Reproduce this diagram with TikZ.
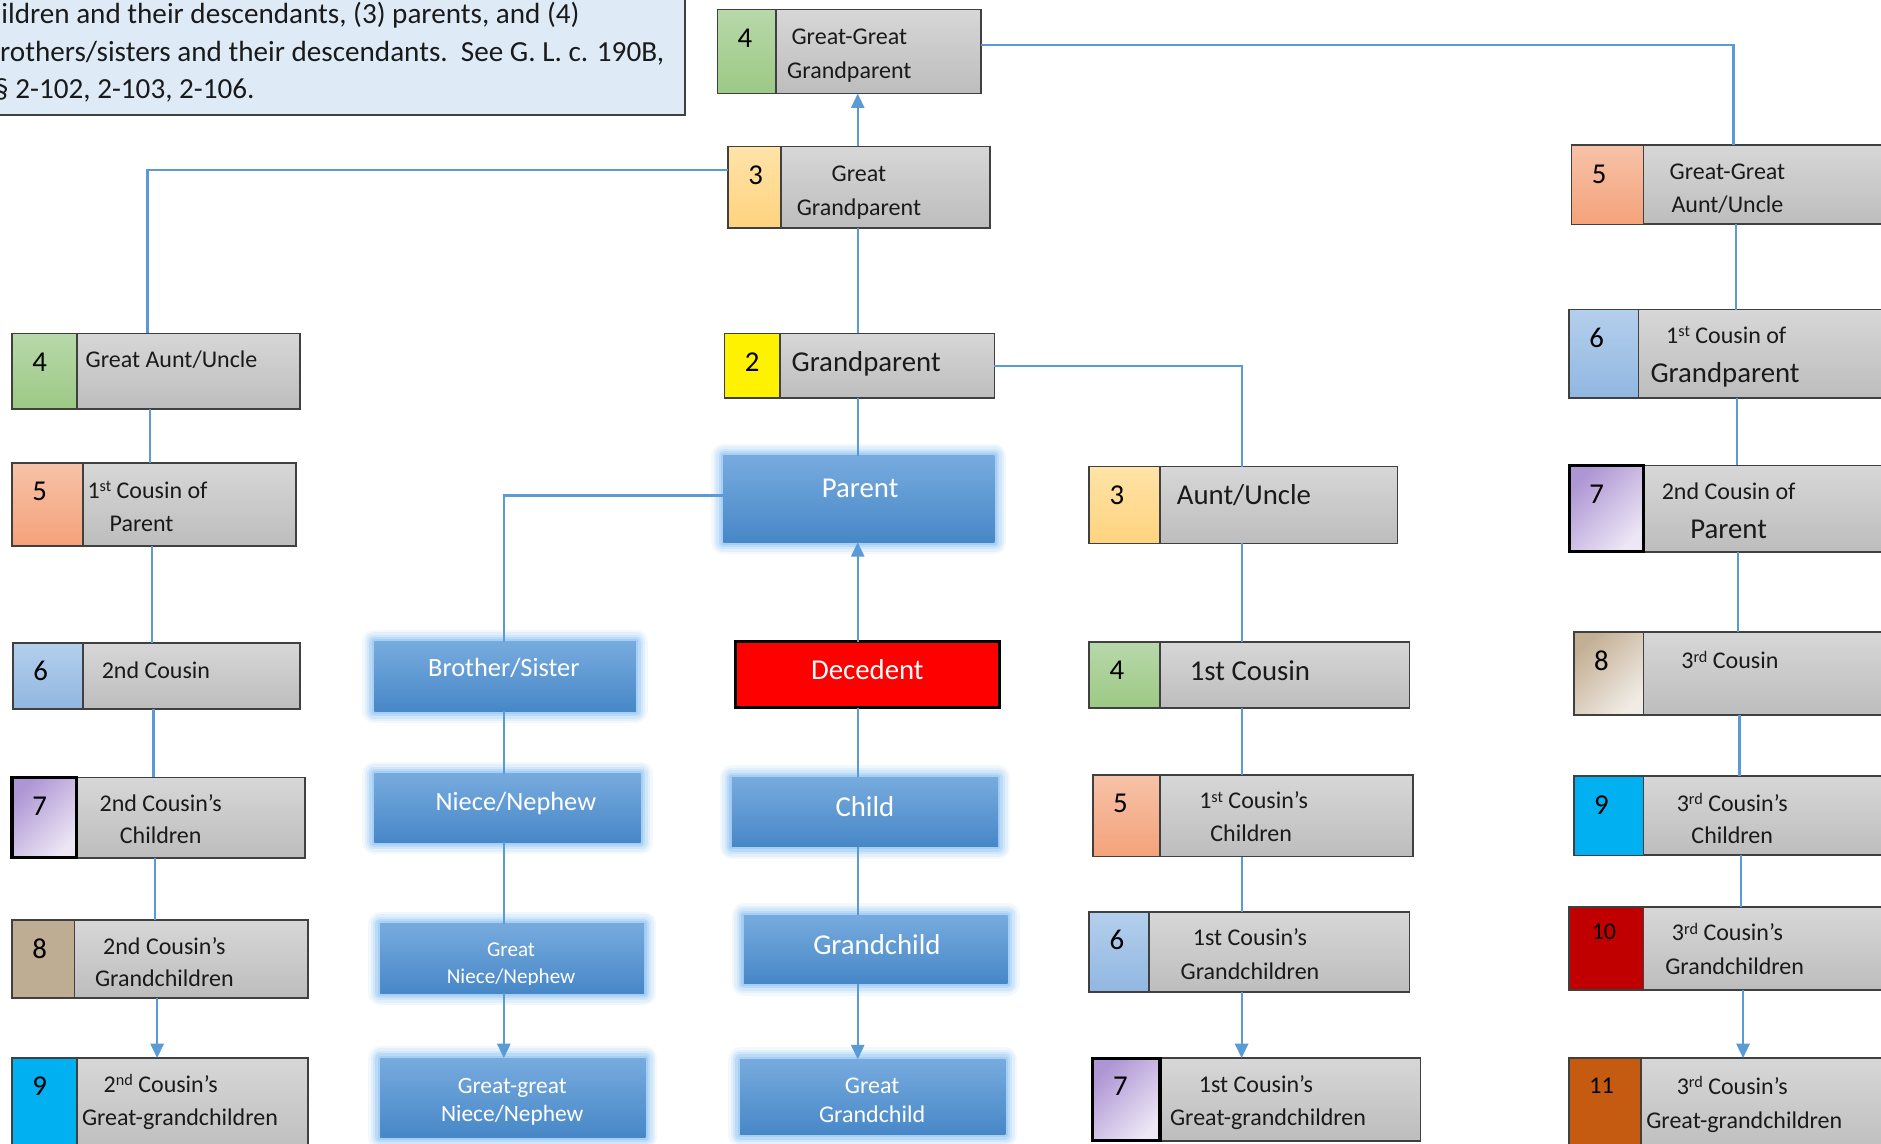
\documentclass[tikz,border=0pt]{standalone}
\usepackage{fontspec}
\setmainfont{Carlito}
\usetikzlibrary{arrows.meta,calc}
\definecolor{lineblue}{HTML}{5B9BD5}
\definecolor{edge}{HTML}{404040}
\definecolor{grayT}{HTML}{D7D7D7}
\definecolor{grayB}{HTML}{BDBDBD}
\definecolor{greenT}{HTML}{B8D8AA}
\definecolor{greenB}{HTML}{9CC985}
\definecolor{oraT}{HTML}{FFE3A8}
\definecolor{oraB}{HTML}{FFD37E}
\definecolor{salT}{HTML}{F7C2A8}
\definecolor{salB}{HTML}{F4A27A}
\definecolor{bluT}{HTML}{B4CFEC}
\definecolor{bluB}{HTML}{91B7E1}
\definecolor{purD}{HTML}{AE95D4}
\definecolor{purL}{HTML}{ECE6F5}
\definecolor{tanS}{HTML}{BFAD93}
\definecolor{tanD}{HTML}{C3AF94}
\definecolor{tanL}{HTML}{F0EBE4}
\definecolor{cyanN}{HTML}{00B0F0}
\definecolor{redN}{HTML}{C00000}
\definecolor{oraN}{HTML}{C55A11}
\definecolor{boxT}{HTML}{77ABDE}
\definecolor{boxB}{HTML}{4787C7}
\definecolor{glow}{HTML}{8EC3F5}
\definecolor{notefill}{HTML}{DEEBF7}
\definecolor{ink}{HTML}{1A1A1A}

\tikzset{
 conn/.style={draw=lineblue, line width=1.8pt},
 arr/.style={conn, -{Triangle[width=11pt,length=12pt]}},
 kbox/.style={draw=edge, line width=1.4pt, top color=grayT, bottom color=grayB, anchor=north west, inner sep=0pt, outer sep=0pt},
 nbox/.style={draw=edge, line width=1.3pt, anchor=north west, inner sep=0pt, outer sep=0pt},
 g2/.style={fill=yellow},
 g3/.style={top color=oraT, bottom color=oraB},
 g4/.style={top color=greenT, bottom color=greenB},
 g5/.style={top color=salT, bottom color=salB},
 g6/.style={top color=bluT, bottom color=bluB},
 g7/.style={draw=black, line width=2.6pt, top color=purD, bottom color=purL, shading angle=45},
 g8s/.style={fill=tanS},
 g8/.style={top color=tanD, bottom color=tanL, shading angle=45},
 g9/.style={fill=cyanN},
 g10/.style={fill=redN},
 g11/.style={fill=oraN},
 bbox/.style={anchor=north west, inner sep=0pt, outer sep=0pt, top color=boxT, bottom color=boxB,
   preaction={draw=glow, line width=20pt, draw opacity=0.10, line join=round},
   preaction={draw=glow, line width=16pt, draw opacity=0.15, line join=round},
   preaction={draw=glow, line width=12pt, draw opacity=0.22, line join=round},
   preaction={draw=glow, line width=8pt, draw opacity=0.32, line join=round},
   preaction={draw=glow, line width=4pt, draw opacity=0.45, line join=round}},
 dbox/.style={anchor=north west, inner sep=0pt, outer sep=0pt, draw=black, line width=2.2pt, fill=red},
 notebox/.style={anchor=north west, inner sep=0pt, outer sep=0pt, draw=edge, line width=1.3pt, fill=notefill},
 num/.style={font=\fontsize{24}{28}\selectfont, text height=15.2pt, text depth=0pt, inner sep=0pt, text=black},
 numsm/.style={font=\fontsize{20}{24}\selectfont, text height=12.7pt},
 t20/.style={font=\fontsize{20}{24}\selectfont, text height=12.7pt, text depth=0pt, inner sep=0pt, text=ink},
 t24/.style={font=\fontsize{24}{28}\selectfont, text height=15.2pt, text depth=0pt, inner sep=0pt, text=ink},
 t22/.style={font=\fontsize{22}{26}\selectfont, text height=13.9pt, text depth=0pt, inner sep=0pt, text=white},
 t18/.style={font=\fontsize{17.6}{21}\selectfont, text height=11.1pt, text depth=0pt, inner sep=0pt, text=white},
 t195/.style={font=\fontsize{19.5}{23}\selectfont, text height=12.3pt, text depth=0pt, inner sep=0pt, text=white},
 notetext/.style={font=\fontsize{24.3}{31}\selectfont, anchor=base west, inner sep=0pt, text=ink},
}

\newcommand\kin[9]{%
  \node[kbox, minimum width={#4-#2}, minimum height={#6-#5}] (#1) at (#2,#5) {};
  \node[nbox, #7, minimum width={#3-#2}, minimum height={#6-#5}] (#1n) at (#2,#5) {};
  \node[num, #9] (#1d) at (#2+23,#5+24) {#8};
}
\newcommand\tx[5][t20]{\node[#1] (#2) at (#3,#4) {#5};}
\newcommand\sups[1]{\raisebox{5.5pt}{\fontsize{13.5}{14}\selectfont #1}}

\begin{document}
\begin{tikzpicture}[x=1pt,y=-1pt]
\useasboundingbox (0,0) rectangle (1568,953);
\fill[white] (0,0) rectangle (1568,953);

% column coordinates
\coordinate (cC) at (715,0);
\coordinate (cB) at (420,0);
\coordinate (cM) at (1035,0);
\coordinate (cL0) at (123,0);
\coordinate (cL1) at (125,0);
\coordinate (cL2) at (127,0);
\coordinate (cL3) at (128,0);
\coordinate (cL4) at (129,0);
\coordinate (cL5) at (131,0);
\coordinate (cR0) at (1445,0);
\coordinate (cR1) at (1447,0);
\coordinate (cR2) at (1448,0);
\coordinate (cR3) at (1449,0);
\coordinate (cR4) at (1450,0);
\coordinate (cR5) at (1451,0);
\coordinate (cR6) at (1453,0);

% note box (top left)
\node[notebox, minimum width=586, minimum height=111] (note) at (-15,-15) {};
\node[notetext] (note1) at (1,20) {ildren and their descendants, (3) parents, and (4)};
\node[notetext] (note2) at (0,51) {rothers/sisters and their descendants.\ \ See G. L. c. 190B,};
\node[notetext] (note3) at (-5,82) {§ 2-102, 2-103, 2-106.};

% center column
\kin{ggp}{598}{647}{818}{8}{78}{g4}{4}{}
\kin{gga}{607}{651}{825}{122}{190}{g3}{3}{}
\kin{gp}{604}{650}{829}{278}{332}{g2}{2}{}
\node[bbox, minimum width=226, minimum height=72] (par) at (603,380) {};
\node[dbox, minimum width=220, minimum height=55] (dec) at (613,535) {};
\node[bbox, minimum width=222, minimum height=58] (chi) at (610,648) {};
\node[bbox, minimum width=220, minimum height=57] (gch) at (620,763) {};
\node[bbox, minimum width=221, minimum height=63] (ggc) at (617,883) {};

% brother column
\node[bbox, minimum width=218, minimum height=58] (bro) at (312,535) {};
\node[bbox, minimum width=222, minimum height=57] (nie) at (312,645) {};
\node[bbox, minimum width=220, minimum height=58] (gni) at (317,770) {};
\node[bbox, minimum width=221, minimum height=66] (ggn) at (317,882) {};

% left column
\kin{L4}{10}{64}{250}{278}{341}{g4}{4}{}
\kin{L5}{10}{69}{247}{386}{455}{g5}{5}{}
\kin{L6}{11}{69}{250}{536}{591}{g6}{6}{}
\kin{L7}{10}{64}{254}{648}{715}{g7}{7}{}
\kin{L8}{10}{62}{257}{767}{832}{g8s}{8}{}
\kin{L9}{10}{64}{257}{882}{965}{g9}{9}{}

% middle-right column
\kin{M3}{908}{967}{1165}{389}{453}{g3}{3}{}
\kin{M4}{908}{967}{1175}{535}{590}{g4}{4}{}
\kin{M5}{911}{967}{1178}{646}{714}{g5}{5}{}
\kin{M6}{908}{958}{1175}{760}{827}{g6}{6}{}
\kin{M7}{911}{967}{1184}{882}{951}{g7}{7}{}

% right column
\kin{R5}{1310}{1370}{1600}{121}{187}{g5}{5}{}
\kin{R6}{1308}{1366}{1600}{258}{332}{g6}{6}{}
\kin{R7}{1308}{1370}{1600}{388}{460}{g7}{7}{}
\kin{R8}{1312}{1370}{1600}{527}{596}{g8}{8}{}
\kin{R9}{1312}{1370}{1600}{647}{713}{g9}{9}{}
\kin{R10}{1308}{1370}{1600}{756}{825}{g10}{10}{numsm, xshift=6pt, yshift=3pt}
\kin{R11}{1308}{1368}{1600}{882}{965}{g11}{11}{numsm, xshift=4pt, yshift=1pt}

% connectors
\draw[arr] (gga.north -| cC) -- (ggp.south -| cC);
\draw[conn] (gga.south -| cC) -- (gp.north -| cC);
\draw[conn] (gp.south -| cC) -- (par.north -| cC);
\draw[arr] (dec.north -| cC) -- (par.south -| cC);
\draw[conn] (dec.south -| cC) -- (chi.north -| cC);
\draw[conn] (chi.south -| cC) -- (gch.north -| cC);
\draw[arr] (gch.south -| cC) -- (ggc.north -| cC);

\draw[conn] ([yshift=5.5pt]ggp.east) -| (R5.north -| cR0);
\draw[conn] ([yshift=14pt]gga.west) -| (L4.north -| cL0);
\draw[conn] (gp.east) -| (M3.north -| cM);
\draw[conn] ([yshift=3pt]par.west) -| (bro.north -| cB);

\draw[conn] (bro.south -| cB) -- (nie.north -| cB);
\draw[conn] (nie.south -| cB) -- (gni.north -| cB);
\draw[arr] (gni.south -| cB) -- (ggn.north -| cB);

\draw[conn] (L4.south -| cL1) -- (L5.north -| cL1);
\draw[conn] (L5.south -| cL2) -- (L6.north -| cL2);
\draw[conn] (L6.south -| cL3) -- (L7.north -| cL3);
\draw[conn] (L7.south -| cL4) -- (L8.north -| cL4);
\draw[arr] (L8.south -| cL5) -- (L9.north -| cL5);

\draw[conn] (M3.south -| cM) -- (M4.north -| cM);
\draw[conn] (M4.south -| cM) -- (M5.north -| cM);
\draw[conn] (M5.south -| cM) -- (M6.north -| cM);
\draw[arr] (M6.south -| cM) -- (M7.north -| cM);

\draw[conn] (R5.south -| cR1) -- (R6.north -| cR1);
\draw[conn] (R6.south -| cR2) -- (R7.north -| cR2);
\draw[conn] (R7.south -| cR3) -- (R8.north -| cR3);
\draw[conn] (R8.south -| cR4) -- (R9.north -| cR4);
\draw[conn] (R9.south -| cR5) -- (R10.north -| cR5);
\draw[arr] (R10.south -| cR6) -- (R11.north -| cR6);

% texts: center column
\tx{tggpA}{708}{31}{Great-Great}
\tx{tggpB}{708}{59}{Grandparent}
\tx{tggaA}{716}{145}{Great}
\tx{tggaB}{716}{173}{Grandparent}
\tx[t24]{tgp}{722}{302}{Grandparent}
\tx[t24,text=white]{tpar}{717}{407}{Parent}
\tx[t24,text=white]{tdec}{723}{559}{Decedent}
\tx[t24,text=white]{tchi}{721}{673}{Child}
\tx[t24,text=white]{tgch}{731}{788}{Grandchild}
\tx[t20,text=white]{tggcA}{727}{905}{Great}
\tx[t20,text=white]{tggcB}{727}{929}{Grandchild}

% brother column
\tx[t22]{tbro}{420}{557}{Brother/Sister}
\tx[t22]{tnie}{430}{669}{Niece/Nephew}
\tx[t18]{tgniA}{426}{792}{Great}
\begin{scope}
\clip (gni.north west) rectangle ([yshift=7pt]gni.south east);
\tx[t18]{tgniB}{426}{814}{Niece/Nephew}
\end{scope}
\tx[t195]{tggnA}{427}{905}{Great-great}
\tx[t195]{tggnB}{427}{929}{Niece/Nephew}

% left column
\tx{tL4}{143}{300}{Great Aunt/Uncle}
\tx{tL5A}{123}{409}{1\sups{st} Cousin of}
\tx{tL5B}{118}{437}{Parent}
\tx{tL6}{130}{559}{2nd Cousin}
\tx{tL7A}{134}{670}{2nd Cousin’s}
\tx{tL7B}{134}{697}{Children}
\tx{tL8A}{137}{789}{2nd Cousin’s}
\tx{tL8B}{137}{816}{Grandchildren}
\tx{tL9A}{134}{904}{2\sups{nd} Cousin’s}
\tx{tL9B}{150}{932}{Great-grandchildren}

% middle-right column
\tx[t24]{tM3}{1037}{413}{Aunt/Uncle}
\tx[t24]{tM4}{1042}{560}{1st Cousin}
\tx{tM5A}{1045}{668}{1\sups{st} Cousin’s}
\tx{tM5B}{1043}{695}{Children}
\tx{tM6A}{1042}{782}{1st Cousin’s}
\tx{tM6B}{1042}{810}{Grandchildren}
\tx{tM7A}{1047}{904}{1st Cousin’s}
\tx{tM7B}{1057}{932}{Great-grandchildren}

% right column
\tx{tR5A}{1440}{143}{Great-Great}
\tx{tR5B}{1440}{171}{Aunt/Uncle}
\tx{tR6A}{1439}{280}{1\sups{st} Cousin of}
\tx[t24]{tR6B}{1438}{311}{Grandparent}
\tx{tR7A}{1441}{410}{2nd Cousin of}
\tx[t24]{tR7B}{1441}{441}{Parent}
\tx{tR8}{1442}{551}{3\sups{rd} Cousin}
\tx{tR9A}{1444}{670}{3\sups{rd} Cousin’s}
\tx{tR9B}{1444}{697}{Children}
\tx{tR10A}{1440}{778}{3\sups{rd} Cousin’s}
\tx{tR10B}{1446}{806}{Grandchildren}
\tx{tR11A}{1444}{906}{3\sups{rd} Cousin’s}
\tx{tR11B}{1454}{934}{Great-grandchildren}
\end{tikzpicture}
\end{document}
